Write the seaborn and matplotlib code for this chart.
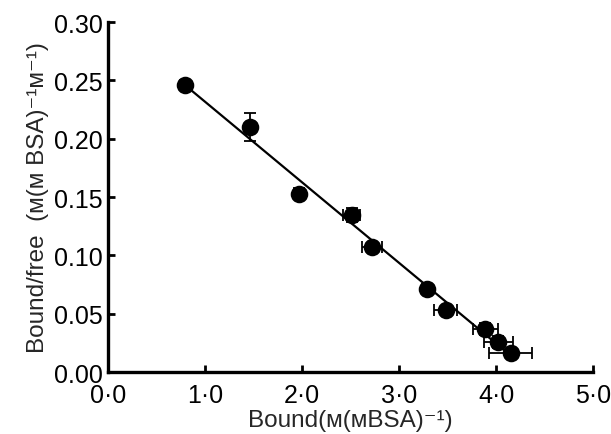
import matplotlib
matplotlib.use("Agg")
import matplotlib.pyplot as plt
import seaborn as sns
import pandas as pd

# Scatchard plot data
bound = [0.79, 1.46, 1.97, 2.51, 2.72, 3.29, 3.48, 3.89, 4.02, 4.15]
bound_free = [0.246, 0.210, 0.153, 0.135, 0.107, 0.071, 0.053, 0.037, 0.026, 0.016]
x_err = [0.05, 0.0, 0.03, 0.09, 0.10, 0.05, 0.12, 0.13, 0.15, 0.22]
y_err = [0.003, 0.012, 0.005, 0.006, 0.004, 0.004, 0.003, 0.005, 0.005, 0.003]

x_ticks = [0, 1, 2, 3, 4, 5]
x_tick_labels = ["0·0", "1·0", "2·0", "3·0", "4·0", "5·0"]
y_ticks = [0.00, 0.05, 0.10, 0.15, 0.20, 0.25, 0.30]
y_tick_labels = ["0.00", "0.05", "0.10", "0.15", "0.20", "0.25", "0.30"]

df = pd.DataFrame({"bound": bound, "bf": bound_free})

sns.set_style("ticks")
plt.rcParams["font.family"] = ["Liberation Sans", "DejaVu Sans"]

fig = plt.figure(figsize=(6.11, 4.35), dpi=100)
ax = fig.add_axes([0.1768, 0.1425, 0.794, 0.8046])

sns.regplot(data=df, x="bound", y="bf", scatter=False, ci=None, truncate=True,
            color="black", line_kws={"linewidth": 1.6}, ax=ax)
ax.errorbar(bound, bound_free, xerr=x_err, yerr=y_err, fmt="none",
            ecolor="black", elinewidth=1.3, capsize=4, capthick=1.3, zorder=3)
sns.scatterplot(data=df, x="bound", y="bf", color="black", s=160,
                edgecolor="black", linewidth=0, zorder=4, ax=ax)

ax.set_xlim(0, 5)
ax.set_ylim(0, 0.30)
ax.set_xticks(x_ticks)
ax.set_xticklabels(x_tick_labels)
ax.set_yticks(y_ticks)
ax.set_yticklabels(y_tick_labels)
ax.tick_params(direction="in", length=5, width=2, labelsize=18, colors="black")
ax.tick_params(axis="x", pad=8)
ax.tick_params(axis="y", pad=4)

for side in ["top", "right"]:
    ax.spines[side].set_visible(False)
for side in ["left", "bottom"]:
    ax.spines[side].set_linewidth(2.4)
    ax.spines[side].set_color("black")

ax.set_xlabel("Bound(ᴍ(ᴍBSA)⁻¹)", fontsize=17.5, labelpad=1)
ax.set_ylabel("Bound/free  (ᴍ(ᴍ BSA)⁻¹ᴍ⁻¹)", fontsize=17.5, labelpad=3)

fig.savefig("out.png", dpi=100)
